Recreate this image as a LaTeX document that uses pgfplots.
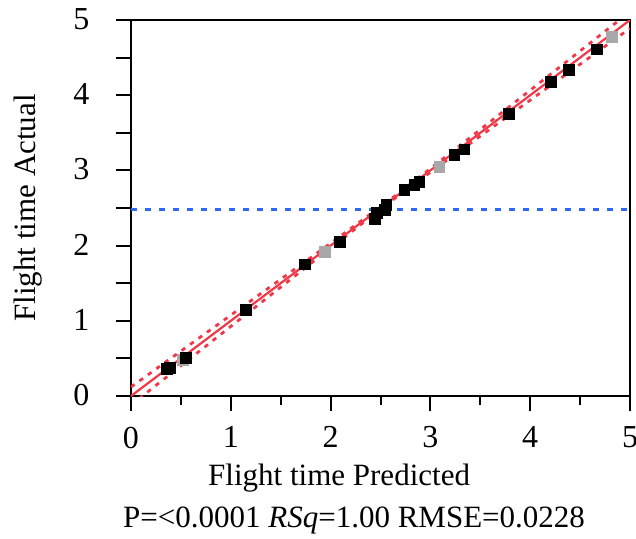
\documentclass[border=0pt]{standalone}
\usepackage{pgfplots}
\pgfplotsset{compat=1.18}
\usepackage{fontspec}
\setmainfont{Liberation Serif}
\definecolor{fitred}{RGB}{240,56,72}
\definecolor{refblue}{RGB}{45,105,245}
\definecolor{ptgray}{RGB}{168,168,168}
\begin{document}
\fontsize{15.5}{18}\selectfont
\begin{tikzpicture}
\begin{axis}[
  scale only axis,
  width=249.5pt, height=188pt,
  xmin=0, xmax=5, ymin=0, ymax=5,
  axis line style={line width=1pt},
  tick style={line width=1pt, black},
  tick align=outside,
  xtick={0,1,2,3,4,5},
  minor xtick={0.5,1.5,2.5,3.5,4.5},
  ytick={0,0.5,1,1.5,2,2.5,3,3.5,4,4.5,5},
  yticklabels={0,,1,,2,,3,,4,,5},
  xtick pos=bottom, ytick pos=left,
  major tick length=7.5pt,
  minor tick length=4.5pt,
  /pgf/number format/assume math mode=true,
  ticklabel style={font=\fontsize{16}{18}\selectfont},
  xticklabel style={yshift=-2.5pt},
  yticklabel style={xshift=-8pt, yshift=0.5pt},
  ylabel={Flight time Actual},
  ylabel style={font=\fontsize{15.5}{18}\selectfont, at={(axis description cs:-0.206,0.5)}, anchor=center},
  clip=true,
]
\coordinate (bbll) at (rel axis cs:-0.2625,-0.3777);
\coordinate (bbur) at (rel axis cs:1.012,1.0532);
\coordinate (xlab) at (rel axis cs:0.417,-0.218);
\coordinate (stat) at (rel axis cs:0.447,-0.33);
% reference line (mean)
\addplot[refblue, line width=1.4pt, dash pattern=on 3pt off 4pt] coordinates {(0,2.485) (5,2.485)};
% confidence bands
\addplot[fitred, line width=1.4pt, dash pattern=on 2.2pt off 3pt] coordinates {
(0,0.120) (0.5,0.5974) (1,1.0749) (1.5,1.5526) (2,2.0313) (2.6,2.615) (3,3.0237) (3.5,3.5439) (4,4.0659) (4.5,4.5884) (5,5.111)};
\addplot[fitred, line width=1.4pt, dash pattern=on 2.2pt off 3pt] coordinates {
(0,-0.120) (0.5,0.4026) (1,0.9251) (1.5,1.4474) (2,1.9687) (2.6,2.585) (3,2.9763) (3.5,3.4561) (4,3.9341) (4.5,4.4116) (5,4.889)};
% fit line
\addplot[fitred, line width=1.1pt] coordinates {(0,0) (5,5)};
% excluded (gray) points
\addplot[only marks, mark=square*, mark size=2.7pt, ptgray, mark options={draw=ptgray, fill=ptgray}] coordinates {
(0.52,0.48) (1.94,1.92) (3.09,3.05) (4.82,4.78)};
% points
\addplot[only marks, mark=square*, mark size=2.7pt, black] coordinates {
(0.36,0.36) (0.39,0.37) (0.55,0.51) (1.15,1.15) (1.74,1.75) (2.09,2.05) (2.44,2.35) (2.46,2.43) (2.54,2.48) (2.56,2.54) (2.74,2.74) (2.84,2.81) (2.89,2.85) (3.24,3.21) (3.34,3.28) (3.79,3.75) (4.21,4.18) (4.39,4.34) (4.67,4.61)};
\end{axis}
\node[anchor=center, inner sep=0pt] at (xlab) {Flight time Predicted};
\node[anchor=center, inner sep=0pt] at (stat) {P=<0.0001 \textit{RSq}=1.00 RMSE=0.0228};
\pgfresetboundingbox
\useasboundingbox (bbll) rectangle (bbur);
\end{tikzpicture}
\end{document}
